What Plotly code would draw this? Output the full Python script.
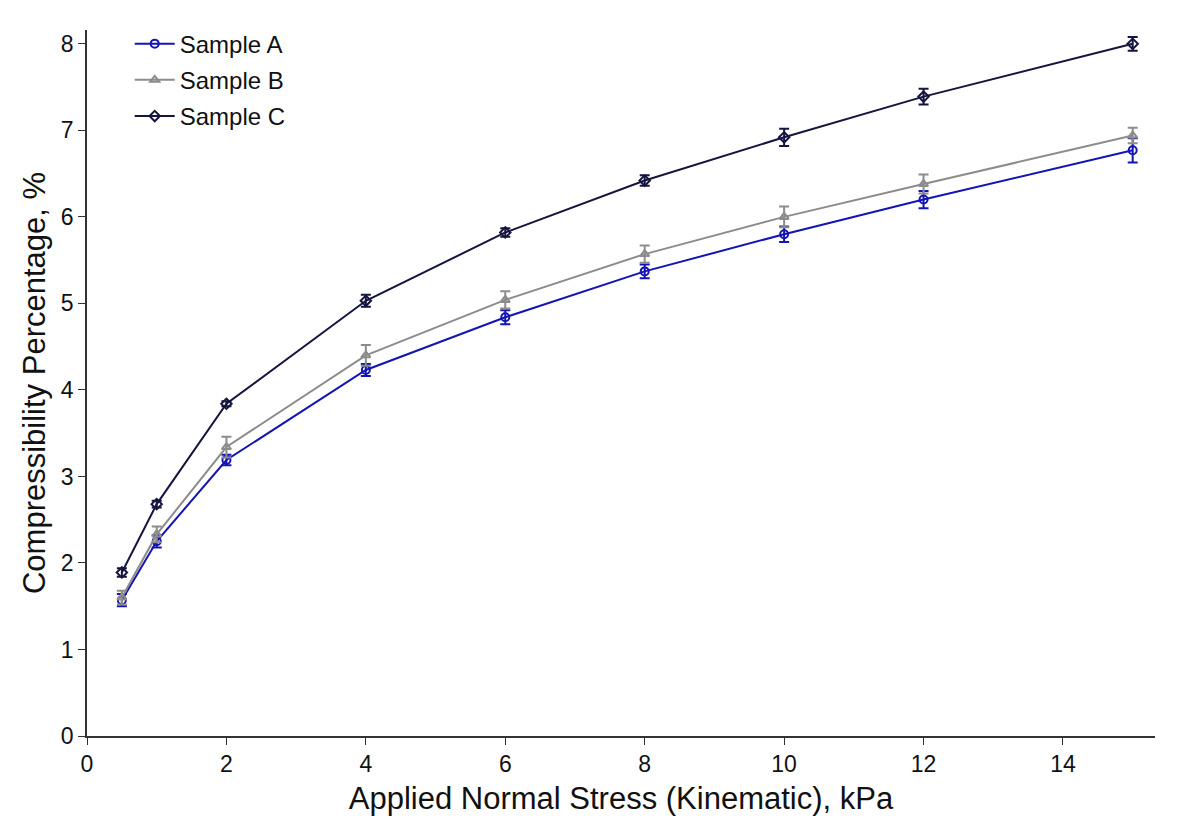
import plotly.graph_objects as go

stress = [0.5, 1, 2, 4, 6, 8, 10, 12, 15]
sample_a = [1.57, 2.25, 3.19, 4.23, 4.84, 5.37, 5.80, 6.20, 6.77]
sample_b = [1.60, 2.33, 3.34, 4.40, 5.04, 5.57, 6.00, 6.38, 6.94]
sample_c = [1.89, 2.68, 3.84, 5.03, 5.82, 6.42, 6.92, 7.39, 8.00]
err_a = [0.07, 0.07, 0.06, 0.07, 0.08, 0.08, 0.09, 0.10, 0.14]
err_b = [0.08, 0.09, 0.12, 0.12, 0.10, 0.10, 0.12, 0.11, 0.09]
err_c = [0.05, 0.04, 0.03, 0.07, 0.05, 0.06, 0.10, 0.09, 0.08]

names = ["Sample A", "Sample B", "Sample C"]
colors = ["#1414B4", "#8C8C8C", "#15153F"]
symbols = ["circle-open", "triangle-up-open", "diamond-open"]

fig = go.Figure()
for name, ys, es, col, sym in zip(names, [sample_a, sample_b, sample_c],
                                   [err_a, err_b, err_c], colors, symbols):
    fig.add_trace(go.Scatter(
        x=stress, y=ys, name=name, legendgroup=name, mode="lines+markers",
        line=dict(color=col, width=2),
        marker=dict(symbol=sym, size=8, color=col, line=dict(width=2, color=col)),
        error_y=dict(type="data", array=es, visible=True, color=col,
                     thickness=2, width=5),
    ))

fig.update_layout(
    width=1178, height=831,
    paper_bgcolor="white", plot_bgcolor="white",
    margin=dict(l=79, r=31, t=22, b=103),
    font=dict(family="Liberation Sans, Arial, sans-serif", color="#111111"),
    showlegend=True,
    legend=dict(x=0.04, y=1.012, xanchor="left", yanchor="top",
                bgcolor="rgba(255,255,255,0)", font=dict(size=24),
                itemwidth=40, tracegroupgap=2),
    xaxis=dict(range=[0, 15.32], tickvals=[0, 2, 4, 6, 8, 10, 12, 14],
               showgrid=False, zeroline=False, showline=True,
               linecolor="#333333", linewidth=1.5, ticks="outside",
               ticklen=7, tickcolor="#333333", tickfont=dict(size=23),
               title=dict(text="Applied Normal Stress (Kinematic), kPa",
                          font=dict(size=31), standoff=11)),
    yaxis=dict(range=[0, 8.16], tickvals=[0, 1, 2, 3, 4, 5, 6, 7, 8],
               showgrid=False, zeroline=False, showline=True,
               linecolor="#333333", linewidth=1.5, ticks="outside",
               ticklen=7, tickcolor="#333333", tickfont=dict(size=23),
               title=dict(text="Compressibility Percentage, %",
                          font=dict(size=31), standoff=6)),
)

fig.write_html("out.html")
